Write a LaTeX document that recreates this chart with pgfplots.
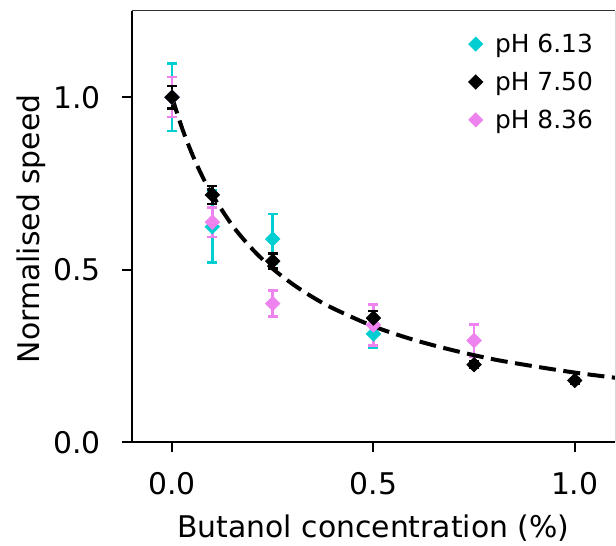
\documentclass[border=0pt]{standalone}
\usepackage{fontspec}
\setmainfont{DejaVu Sans}
\usepackage{pgfplots}
\pgfplotsset{compat=1.18}
\definecolor{cyanc}{HTML}{00CED1}
\definecolor{violetc}{HTML}{EE82EE}
\begin{document}
\begin{tikzpicture}
\begin{axis}[
  width=484bp, height=432bp, scale only axis,
  xmin=-0.1, xmax=1.1, ymin=0, ymax=1.25,
  axis x line*=bottom, axis y line*=left,
  axis line style={line width=2bp, -},
  xtick={0,0.5,1}, ytick={0,0.5,1},
  tick align=outside, major tick length=10bp,
  tick style={black, line width=2bp},
  /pgf/number format/assume math mode=true,
  /pgf/number format/.cd, fixed, fixed zerofill, precision=1, /pgfplots/.cd,
  ticklabel style={font=\fontsize{30}{36}\selectfont},
  yticklabel style={inner sep=0pt, xshift=-21bp},
  xticklabel style={inner sep=0pt, yshift=-20bp},
  xlabel={Butanol concentration (\%)},
  ylabel={Normalised speed},
  label style={font=\fontsize{30}{36}\selectfont},
  xlabel style={at={(axis description cs:0.5,-0.2)}, anchor=center},
  ylabel style={at={(axis description cs:-0.2087,0.495)}, anchor=center, rotate=0},
  clip=false,
  legend style={draw=none, fill=none, font=\fontsize{25}{30}\selectfont,
    at={(axis description cs:1.0,1.0)}, anchor=north east,
    xshift=-20bp, yshift=-21bp,
    row sep=14bp, column sep=10bp, inner sep=0bp},
  legend cell align=left,
  legend image code/.code={\draw[#1] plot coordinates {(0.3cm,0cm)};},
  error bars/error bar style={line width=2.5bp},
  error bars/error mark options={rotate=90, mark size=5bp, line width=2.5bp},
]
\addlegendimage{only marks, mark=square*, mark size=5.2bp, mark options={rotate=45, draw=cyanc, fill=cyanc, line width=0.3bp}}
\addlegendentry{pH 6.13}
\addlegendimage{only marks, mark=square*, mark size=5.2bp, mark options={rotate=45, draw=black, fill=black, line width=0.3bp}}
\addlegendentry{pH 7.50}
\addlegendimage{only marks, mark=square*, mark size=5.2bp, mark options={rotate=45, draw=violetc, fill=violetc, line width=0.3bp}}
\addlegendentry{pH 8.36}

% pH 6.13
\addplot[forget plot, only marks, color=cyanc, mark=square*, mark size=5.2bp,
  mark options={rotate=45, line width=0.5bp},
  error bars/.cd, y dir=both, y explicit]
  coordinates {
  (0,1.000) +- (0,0.098)
  (0.1,0.625) +- (0,0.104)
  (0.25,0.589) +- (0,0.073)
  (0.5,0.314) +- (0,0.040)
  };
% pH 8.36
\addplot[forget plot, only marks, color=violetc, mark=square*, mark size=5.2bp,
  mark options={rotate=45, line width=0.5bp},
  error bars/.cd, y dir=both, y explicit]
  coordinates {
  (0,1.000) +- (0,0.058)
  (0.1,0.638) +- (0,0.043)
  (0.25,0.402) +- (0,0.038)
  (0.5,0.340) +- (0,0.059)
  (0.75,0.295) +- (0,0.046)
  };
% pH 7.50
\addplot[forget plot, only marks, color=black, mark=square*, mark size=5.2bp,
  mark options={rotate=45, line width=0.5bp},
  error bars/.cd, y dir=both, y explicit]
  coordinates {
  (0,1.000) +- (0,0.032)
  (0.1,0.717) +- (0,0.026)
  (0.25,0.525) +- (0,0.022)
  (0.5,0.360) +- (0,0.020)
  (0.75,0.225) +- (0,0.010)
  (1.0,0.179) +- (0,0.008)
  };
% fit
\begin{scope}
\clip (rel axis cs:0,0) rectangle (rel axis cs:1,1);
\addplot[forget plot, black, line width=4bp, dash pattern=on 17bp off 7.5bp, smooth]
  coordinates {
  (0,1.000) (0.025,0.910) (0.05,0.835) (0.075,0.771) (0.1,0.717)
  (0.15,0.628) (0.2,0.559) (0.25,0.503) (0.3,0.458) (0.35,0.420)
  (0.4,0.388) (0.5,0.336) (0.6,0.297) (0.7,0.266) (0.8,0.240)
  (0.9,0.220) (1.0,0.202) (1.1,0.187) (1.15,0.180)
  };
\end{scope}
\draw[black!80, line width=1bp] (rel axis cs:0,1) -- (rel axis cs:1,1);
\draw[black!15, line width=1bp] (rel axis cs:1,0) -- (rel axis cs:1,1);
\coordinate (sw) at (rel axis cs:0,0);
\coordinate (ne) at (rel axis cs:1,1);
\end{axis}
\path ([shift={(-132bp,-100bp)}]sw) rectangle ([shift={(0bp,11bp)}]ne);
\end{tikzpicture}
\end{document}
